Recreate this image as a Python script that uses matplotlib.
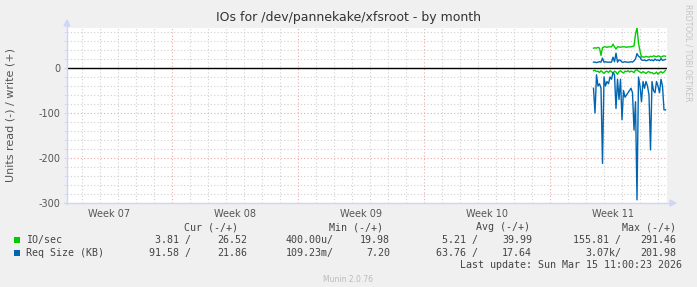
import matplotlib
matplotlib.use("Agg")
import matplotlib.pyplot as plt
from matplotlib.lines import Line2D
from matplotlib.patches import Polygon, Rectangle
import numpy as np

# ---------------- data ----------------
# sample times: hours since Mon 2026-03-09 00:00 (2-hour RRD consolidation)
sample_hours = list(range(58, 155, 2))

io_write = [44, 45, 44, 46, 44, 28, 45, 47, 47, 46, 47, 47, 47, 53, 47, 42, 47, 47,
            46, 47, 47, 47, 46, 47, 47, 47, 48, 49, 75, 90, 55, 38, 24, 25, 24, 26,
            25, 24, 26, 25, 27, 26, 25, 27, 26, 24, 26, 27, 26]
io_read = [-6, -5, -8, -7, -10, -6, -9, -12, -8, -7, -10, -6, -8, -12, -7, -9, -14, -8,
           -6, -9, -11, -7, -8, -6, -9, -7, -8, -10, -5, -4, -7, -9, -11, -8, -10, -12,
           -9, -8, -11, -10, -13, -12, -9, -14, -10, -8, -11, -9, -5]
req_write = [13, 13, 12, 13, 14, 13, 22, 13, 14, 13, 13, 13, 13, 24, 14, 33, 13, 18,
             17, 13, 13, 14, 13, 13, 13, 14, 13, 16, 20, 32, 26, 24, 18, 17, 18, 16,
             17, 19, 17, 18, 16, 20, 17, 18, 16, 21, 17, 18, 19]
req_read = [-45, -100, -15, -40, -35, -45, -212, -20, -40, -30, -35, -20, -25, -10, -15,
            -90, -25, -70, -25, -115, -50, -65, -60, -55, -50, -45, -55, -138, -75,
            -293, -20, -40, -75, -30, -45, -30, -40, -60, -182, -30, -50, -55, -30,
            -40, -55, -25, -40, -93, -93]

week_labels = ["Week 07", "Week 08", "Week 09", "Week 10", "Week 11"]
week_centers = [-24.5, -17.5, -10.5, -3.5, 3.5]   # days relative to Week 11 start
week_starts = [-21, -14, -7, 0]

legend_header = ["Cur (-/+)", "Min (-/+)", "Avg (-/+)", "Max (-/+)"]
legend_names = ["IO/sec", "Req Size (KB)"]
legend_colors = ["#00CC00", "#0066B3"]
legend_values = [
    ["3.81 /", "26.52", "400.00u/", "19.98", "5.21 /", "39.99", "155.81 /", "291.46"],
    ["91.58 /", "21.86", "109.23m/", "7.20", "63.76 /", "17.64", "3.07k/", "201.98"],
]

# ---------------- figure ----------------
W, H = 697, 287
fig = plt.figure(figsize=(W / 100, H / 100), dpi=100, facecolor="#F0F0F0")

def fx(px):
    return px / W

def fy(py):
    return 1 - py / H

L, R, T, B = 67, 667, 28, 203
ax = fig.add_axes([fx(L), fy(B), (R - L) / W, (B - T) / H])
ax.set_facecolor("white")
for s in ax.spines.values():
    s.set_visible(False)

xmin, xmax = (L - 550) / 18, (R - 550) / 18
ymin, ymax = -300, (68 - T) / 0.45
ax.set_xlim(xmin, xmax)
ax.set_ylim(ymin, ymax)

grid_c = "#D0D0D0"
mgrid_c = "#F0A8A8"
dash = (0, (1, 2))
for d in range(int(np.ceil(xmin)), int(np.floor(xmax)) + 1):
    c = mgrid_c if d in week_starts else grid_c
    ax.axvline(d, color=c, lw=0.8, ls=dash, zorder=1)
for v in range(-300, 90, 20):
    c = mgrid_c if v % 100 == 0 else grid_c
    ax.axhline(v, color=c, lw=0.8, ls=dash, zorder=1)
ax.axhline(0, color="black", lw=1.0, zorder=3)

t = np.array(sample_hours) / 24.0
ax.plot(t, io_write, color="#00CC00", lw=1.0, zorder=4)
ax.plot(t, io_read, color="#00CC00", lw=1.0, zorder=4)
ax.plot(t, req_write, color="#0066B3", lw=1.0, zorder=4)
ax.plot(t, req_read, color="#0066B3", lw=1.0, zorder=4)

ax.set_xticks(week_centers)
ax.set_xticklabels(week_labels, fontsize=7, color="#555555")
ax.tick_params(axis="x", length=0, pad=4)
ax.set_yticks([-300, -200, -100, 0])
ax.set_yticklabels(["-300", "-200", "-100", "0"], fontsize=7, color="#555555")
ax.tick_params(axis="y", length=2, color="#CFD6F8", pad=3)
ax.set_yticks(range(-300, 90, 20), minor=True)
ax.tick_params(axis="y", which="minor", length=2, color="#CFD6F8")

ax.set_ylabel("Units read (-) / write (+)", fontsize=8, color="#555555", labelpad=16)

# axes lines with arrows
axis_c = "#CFD6F8"
fig.add_artist(Line2D([fx(L), fx(L)], [fy(B + 1), fy(24)], color=axis_c, lw=1))
fig.add_artist(Line2D([fx(L - 3), fx(671)], [fy(B), fy(B)], color=axis_c, lw=1))
fig.add_artist(Polygon([[fx(L), fy(20)], [fx(L - 3), fy(26)], [fx(L + 3), fy(26)]],
                       closed=True, color=axis_c, transform=fig.transFigure))
fig.add_artist(Polygon([[fx(676), fy(B)], [fx(670), fy(B - 3)], [fx(670), fy(B + 3)]],
                       closed=True, color=axis_c, transform=fig.transFigure))

# title & side text
fig.text(fx(348), fy(18), "IOs for /dev/pannekake/xfsroot - by month", ha="center",
         va="center", fontsize=9, color="#333333")
fig.text(fx(688), fy(53), "RRDTOOL / TOBI OETIKER", ha="center", va="center",
         rotation=270, fontsize=5.5, color="#C4C4C4")

# legend
mono = dict(family="DejaVu Sans Mono", fontsize=7.2, color="#444444", va="center")
hdr_right = [238, 383, 530, 676]
for txt, xr in zip(legend_header, hdr_right):
    fig.text(fx(xr), fy(227), txt, ha="right", **mono)
val_right = [191, 247, 334, 390, 478, 532, 621, 676]
row_y = [240, 253]
for name, col, vals, yy in zip(legend_names, legend_colors, legend_values, row_y):
    fig.add_artist(Rectangle((fx(14), fy(yy + 3)), 6 / W, 6 / H, facecolor=col,
                             edgecolor="none", transform=fig.transFigure))
    fig.text(fx(26), fy(yy), name, ha="left", **mono)
    for v, xr in zip(vals, val_right):
        fig.text(fx(xr), fy(yy), v, ha="right", **mono)
fig.text(fx(682), fy(265), "Last update: Sun Mar 15 11:00:23 2026", ha="right", **mono)
fig.text(fx(348), fy(279), "Munin 2.0.76", ha="center", va="center", fontsize=5.5,
         color="#BBBBBB")

fig.savefig("out.png", dpi=100, facecolor=fig.get_facecolor())
